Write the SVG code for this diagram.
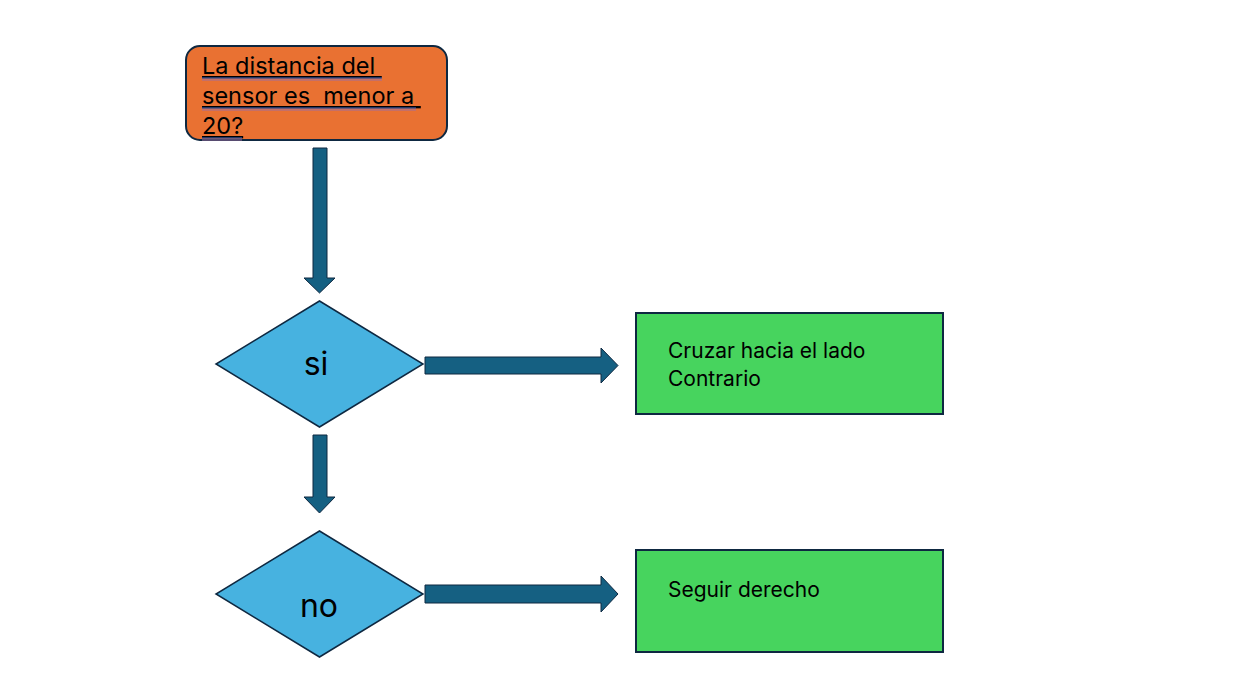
<svg xmlns="http://www.w3.org/2000/svg" width="1235" height="697" viewBox="0 0 1235 697">
<style>
.arrow{fill:#156082;stroke:#0E2841;stroke-width:1}
.dec{fill:#47B2E0;stroke:#0E2841;stroke-width:1.5}
.act{fill:#47D45E;stroke:#0E2841;stroke-width:2}
.t{font-family:Inter,"Liberation Sans",Arial,sans-serif;fill:#000}
.sq1{stroke:#4A6FD0;stroke-width:1}
.sq2{stroke:#A06FA0;stroke-width:1}
</style>
<rect width="1235" height="697" fill="#fff"/>
<g id="start">
<rect x="186" y="46" width="261" height="94" rx="14" fill="#E97132" stroke="#0E2841" stroke-width="2"/>
<text class="t" x="202" y="74" font-size="23.5" text-decoration="underline" xml:space="preserve">La distancia del </text>
<text class="t" x="202" y="104" font-size="23.5" text-decoration="underline" xml:space="preserve">sensor es  menor a </text>
<text class="t" x="202" y="134" font-size="23.5" text-decoration="underline">20?</text>
<line class="sq1" x1="202" y1="78" x2="382" y2="78"/><line class="sq2" x1="202" y1="80" x2="382" y2="80"/>
<line class="sq1" x1="202" y1="108" x2="416" y2="108"/><line class="sq2" x1="202" y1="110" x2="416" y2="110"/>
<line class="sq1" x1="202" y1="138" x2="242" y2="138"/><line class="sq2" x1="202" y1="140" x2="242" y2="140"/>
</g>
<g id="connectors">
<path class="arrow" d="M313,148 H327 V278 H335 L319.5,293 L304,278 H313 Z"/>
<path class="arrow" d="M313,435 H327 V497 H335 L319.5,513 L304,497 H313 Z"/>
<path class="arrow" d="M425,357 H601 V348 L618,365.5 L601,383 V374 H425 Z"/>
<path class="arrow" d="M425,585 H601 V576 L618,594 L601,612 V603 H425 Z"/>
</g>
<g id="dec-si">
<polygon class="dec" points="319.5,301 423,364 319.5,427 216,364"/>
<text class="t" x="316" y="375" font-size="32" text-anchor="middle">si</text>
</g>
<g id="dec-no">
<polygon class="dec" points="319.5,531 423,594 319.5,657 216,594"/>
<text class="t" x="319" y="617" font-size="32" text-anchor="middle">no</text>
</g>
<g id="act-cruzar">
<rect class="act" x="636" y="313" width="307" height="101"/>
<text class="t" x="668" y="358" font-size="21">Cruzar hacia el lado</text>
<text class="t" x="668" y="386" font-size="21">Contrario</text>
</g>
<g id="act-seguir">
<rect class="act" x="636" y="550" width="307" height="102"/>
<text class="t" x="668" y="597" font-size="21">Seguir derecho</text>
</g>
</svg>
